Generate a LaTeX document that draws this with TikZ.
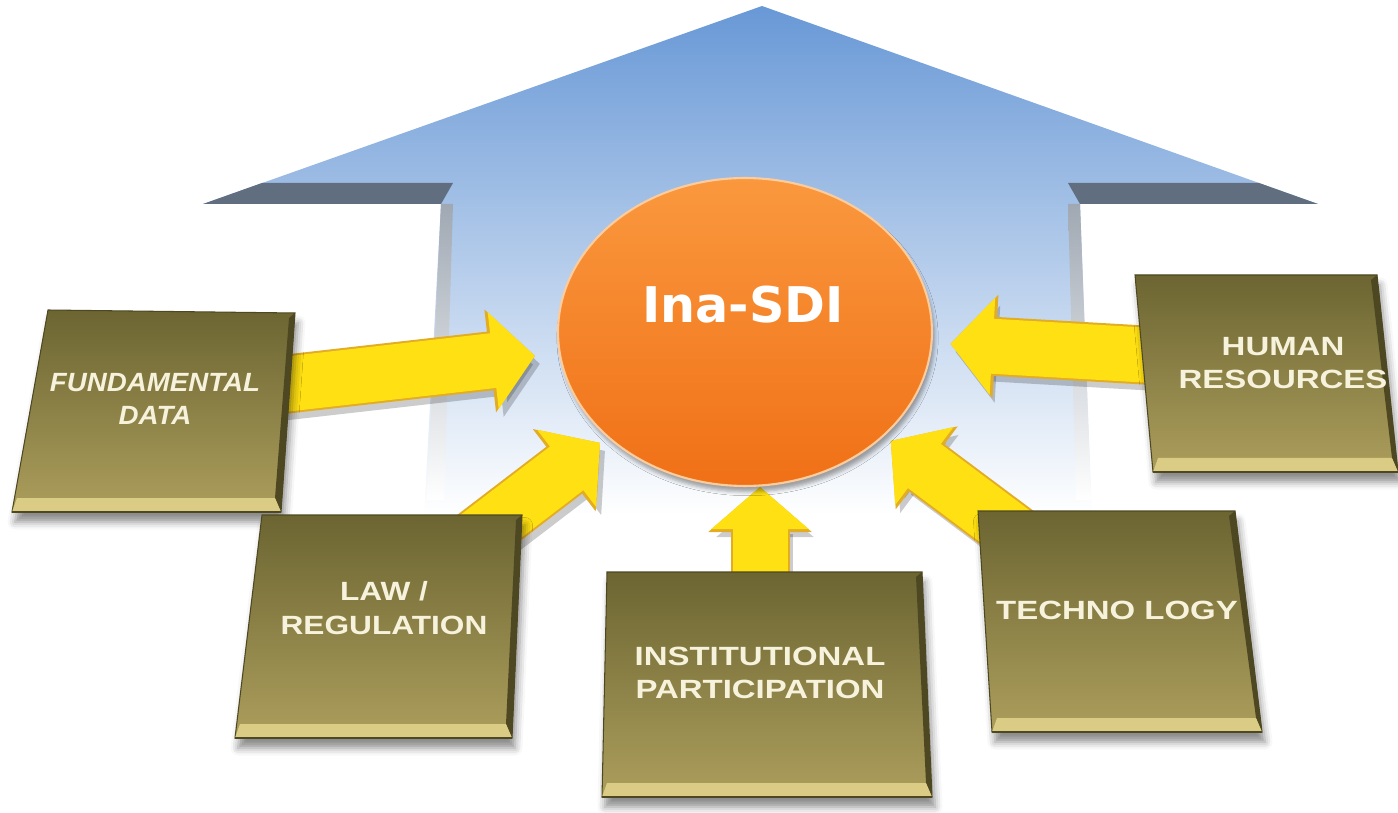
\documentclass[tikz,border=0pt]{standalone}
\usepackage{fontspec}
\setmainfont{Liberation Sans}
\newfontfamily\hubfont{DejaVu Sans}
\usepackage{graphicx}
\usetikzlibrary{arrows.meta,shapes.geometric,calc,shadows.blur}
\definecolor{cielo}{RGB}{104,152,214}
\definecolor{cielomed}{RGB}{150,182,220}
\definecolor{franja}{RGB}{96,110,128}
\definecolor{oliva}{RGB}{108,101,50}
\definecolor{olivaclaro}{RGB}{172,158,92}
\definecolor{bisel}{RGB}{218,204,132}
\definecolor{borde}{RGB}{78,72,34}
\definecolor{crema}{RGB}{246,242,220}
\definecolor{amarillo}{RGB}{255,224,18}
\definecolor{dorado}{RGB}{226,172,36}
\definecolor{naranja}{RGB}{240,112,22}
\definecolor{naranjaclaro}{RGB}{250,152,62}
\definecolor{aro}{RGB}{252,204,156}
\pgfdeclarelayer{background}
\pgfsetlayers{background,main}
\newcommand{\ancho}[2][1.25]{\scalebox{#1}[1]{#2}}

\begin{document}
\begin{tikzpicture}[x=0.02cm,y=-0.02cm,
  etiqueta/.style={text=crema, align=center, inner sep=2pt,
    font=\bfseries\fontsize{15}{19}\selectfont},
  flecha/.style={draw=amarillo, line width=1.1cm,
    -{Triangle[length=0.84cm,width=1.9cm]}},
  contorno/.style={draw=dorado, line width=1.18cm,
    -{Triangle[length=0.9cm,width=2.02cm]}},
  sombra/.style={draw=black, opacity=0.2, line width=1.1cm,
    -{Triangle[length=0.84cm,width=1.9cm]},
    transform canvas={xshift=0.1cm,yshift=-0.16cm}}]
  \useasboundingbox (0,0) rectangle (1398,813);

  % Cajas
  \foreach \tl/\tr/\br/\bl in {{(48,310)}/{(295,313)}/{(281,512)}/{(12,512)},
      {(262,515)}/{(522,515)}/{(512,738)}/{(235,738)},
      {(607,572)}/{(922,572)}/{(932,797)}/{(602,797)},
      {(978,511)}/{(1235,511)}/{(1262,732)}/{(992,732)},
      {(1135,275)}/{(1377,275)}/{(1398,472)}/{(1153,472)}} {
    \path \tl coordinate (ai) \tr coordinate (ad) \br coordinate (bd) \bl coordinate (bi);
    \shade[top color=oliva, bottom color=olivaclaro, draw=borde, line width=0.6pt,
      blur shadow={shadow xshift=0.06cm, shadow yshift=-0.2cm,
        shadow opacity=45, shadow blur radius=0.15cm}]
      (ai) -- (ad) -- (bd) -- (bi) -- cycle;
    \fill[borde] (ad) -- (bd) -- ($(bd)+(-6,-14)$) -- ($(ad)+(-6,5)$) -- cycle;
    \fill[bisel] ($(bi)+(5,-14)$) -- ($(bd)+(-6,-14)$) -- (bd) -- (bi) -- cycle;
    \draw[borde, line width=0.8pt] (bi) -- (bd);
  }

  \node[etiqueta] (fund) at (155,399)
    {\itshape\ancho[1.05]{FUNDAMENTAL}\\\itshape\ancho[1.05]{DATA}};
  \node[etiqueta] (law) at (384,608) {\ancho[1.2]{LAW /}\\\ancho[1.2]{REGULATION}};
  \node[etiqueta] (inst) at (760,673) {\ancho{INSTITUTIONAL}\\\ancho{PARTICIPATION}};
  \node[etiqueta] (tec) at (1117,610) {\ancho{TECHNO LOGY}};
  \node[etiqueta] (hum) at (1283,363) {\ancho{HUMAN}\\\ancho{RESOURCES}};

  % Circulo central
  \node[ellipse, minimum width=7.48cm, minimum height=6.16cm, inner sep=0pt,
    top color=naranjaclaro, bottom color=naranja, draw=aro, line width=1.2pt,
    blur shadow={shadow xshift=0.05cm, shadow yshift=-0.12cm, shadow opacity=35}]
    (hub) at (745,332) {};
  \node[text=white, font=\hubfont\bfseries\fontsize{28}{30}\selectfont]
    (sdi) at (743,305) {Ina-SDI};

  \begin{pgfonlayer}{background}
    % Flecha grande del fondo
    \shade[top color=cielo, middle color=cielomed, bottom color=white]
      (762,6) -- (1318,204) -- (1080,204) -- (1092,515) -- (424,515)
      -- (441,204) -- (203,204) -- cycle;
    \fill[franja] (262,183) -- (453,183) -- (441,204) -- (203,204) -- cycle;
    \fill[franja] (1068,183) -- (1259,183) -- (1318,204) -- (1080,204) -- cycle;
    % lados del cuerpo
    \shade[top color=franja!60, bottom color=white]
      (441,204) -- (453,204) -- (444,500) -- (427,500) -- cycle;
    \shade[top color=franja!60, bottom color=white]
      (1068,204) -- (1080,204) -- (1091,500) -- (1076,500) -- cycle;

    % Flechas amarillas
    \foreach \a/\c in {fund/0.48cm, law/0.18cm, tec/0.16cm, hum/0.36cm} {
      \draw[sombra, shorten >=\c] (\a) -- (hub);
      \draw[contorno, shorten >=\c] (\a) -- (hub);
      \draw[flecha, shorten >=\c] (\a) -- (hub);
    }
    \draw[sombra] (inst.north) -- (inst.north |- hub.south);
    \draw[contorno] (inst.north) -- (inst.north |- hub.south);
    \draw[flecha] (inst.north) -- (inst.north |- hub.south);
  \end{pgfonlayer}
\end{tikzpicture}
\end{document}
